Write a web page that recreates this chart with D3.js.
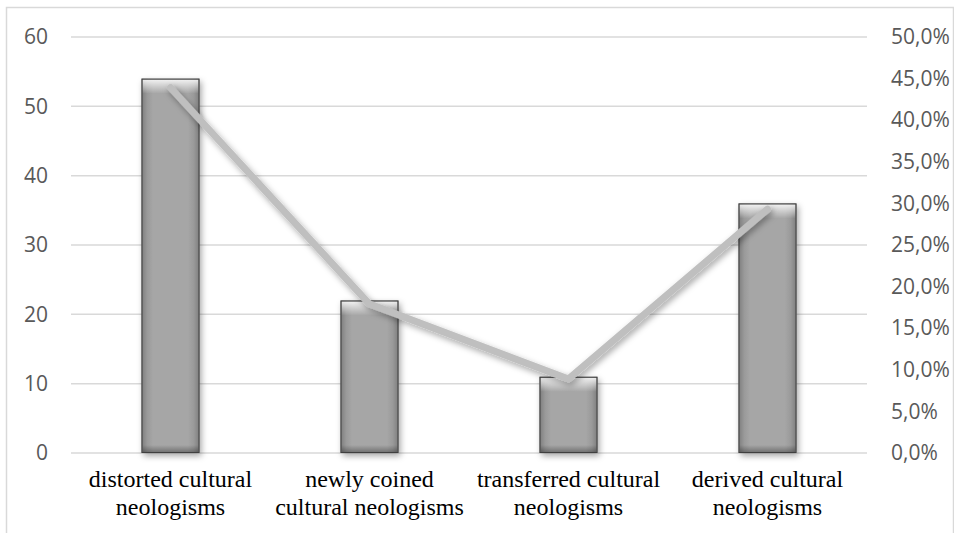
<!DOCTYPE html>
<html>
<head>
<meta charset="utf-8">
<script src="https://cdn.jsdelivr.net/npm/d3@7"></script>
<style>
  html, body { margin: 0; padding: 0; background: #fff; }
  svg { display: block; }
</style>
</head>
<body>
<svg id="chart" width="954" height="533"></svg>
<script>
// Neologism counts per category (bars, left axis) and their share (line, right axis)
const categories = [
  ["distorted cultural", "neologisms"],
  ["newly coined", "cultural neologisms"],
  ["transferred cultural", "neologisms"],
  ["derived cultural", "neologisms"]
];
const counts = [54, 22, 11, 36];
const shares = [43.9, 17.9, 8.9, 29.3];
const countTicks = [0, 10, 20, 30, 40, 50, 60];
const shareTicks = [0, 5, 10, 15, 20, 25, 30, 35, 40, 45, 50];

const svg = d3.select("#chart");
const W = 954, H = 533;
const plot = { left: 71, right: 867, top: 37, bottom: 453 };

// outer frame
svg.append("rect")
  .attr("x", 6.5).attr("y", 7.5)
  .attr("width", W - 7).attr("height", H)
  .attr("fill", "none").attr("stroke", "#d9d9d9").attr("stroke-width", 1.5);

const keys = categories.map((c, i) => i);
const x = d3.scaleBand().domain(keys).range([plot.left, plot.right]).paddingInner(0).paddingOuter(0);
const yL = d3.scaleLinear().domain([0, 60]).range([plot.bottom, plot.top]);
const yR = d3.scaleLinear().domain([0, 50]).range([plot.bottom, plot.top]);

const defs = svg.append("defs");
const side = defs.append("linearGradient").attr("id", "barSide").attr("x1", 0).attr("x2", 1).attr("y1", 0).attr("y2", 0);
[[0, "#7d7d7d"], [0.1, "#9a9a9a"], [0.2, "#a6a6a6"], [0.8, "#a6a6a6"], [0.9, "#9a9a9a"], [1, "#7d7d7d"]]
  .forEach(([o, c]) => side.append("stop").attr("offset", o).attr("stop-color", c));
const topHi = defs.append("linearGradient").attr("id", "barTop").attr("x1", 0).attr("x2", 0).attr("y1", 0).attr("y2", 1);
[[0, "#ffffff", 0.85], [1, "#ffffff", 0]].forEach(([o, c, a]) =>
  topHi.append("stop").attr("offset", o).attr("stop-color", c).attr("stop-opacity", a));
const botSh = defs.append("linearGradient").attr("id", "barBot").attr("x1", 0).attr("x2", 0).attr("y1", 0).attr("y2", 1);
[[0, "#000", 0], [1, "#000", 0.3]].forEach(([o, c, a]) =>
  botSh.append("stop").attr("offset", o).attr("stop-color", c).attr("stop-opacity", a));
const shadow = defs.append("filter").attr("id", "shadow").attr("x", "-30%").attr("y", "-30%").attr("width", "160%").attr("height", "160%");
shadow.append("feDropShadow").attr("dx", 2).attr("dy", 3).attr("stdDeviation", 3)
  .attr("flood-color", "#000").attr("flood-opacity", 0.35);

// gridlines
svg.append("g").selectAll("line").data(countTicks).join("line")
  .attr("x1", plot.left).attr("x2", plot.right)
  .attr("y1", d => yL(d)).attr("y2", d => yL(d))
  .attr("stroke", "#d9d9d9").attr("stroke-width", 1.5);

// left axis labels
const leftAxis = svg.append("g").attr("transform", `translate(${plot.left - 23},0)`)
  .call(d3.axisLeft(yL).tickValues(countTicks).tickSize(0).tickPadding(0).tickFormat(d3.format("d")));
leftAxis.select(".domain").remove();
leftAxis.selectAll("text").attr("font-family", "'Open Sans', sans-serif").attr("font-size", 21)
  .attr("fill", "#595959");

// right axis labels
const rightAxis = svg.append("g").attr("transform", `translate(${plot.right + 24},0)`)
  .call(d3.axisRight(yR).tickValues(shareTicks).tickSize(0).tickPadding(0)
    .tickFormat(d => d.toFixed(1).replace(".", ",") + "%"));
rightAxis.select(".domain").remove();
rightAxis.selectAll("text").attr("font-family", "'Open Sans', sans-serif").attr("font-size", 21)
  .attr("fill", "#595959");

// bars
const barW = 58;
const bars = svg.append("g").selectAll("g").data(counts).join("g")
  .attr("transform", (d, i) => `translate(${x(i) + x.bandwidth() / 2 - barW / 2},${yL(d)})`);
bars.append("rect").attr("width", barW).attr("height", d => yL(0) - yL(d))
  .attr("fill", "url(#barSide)").attr("filter", "url(#shadow)");
bars.append("rect").attr("x", 1).attr("y", 1).attr("width", barW - 2).attr("height", 14)
  .attr("fill", "url(#barTop)");
bars.append("rect").attr("x", 1).attr("y", d => yL(0) - yL(d) - 8).attr("width", barW - 2).attr("height", 7)
  .attr("fill", "url(#barBot)");
bars.append("rect").attr("x", 0.5).attr("y", 0.5).attr("width", barW - 1).attr("height", d => yL(0) - yL(d) - 1)
  .attr("fill", "none").attr("stroke", "#3f3f3f").attr("stroke-width", 1);

// share line
const line = d3.line().x((d, i) => x(i) + x.bandwidth() / 2).y(d => yR(d));
svg.append("path").datum(shares).attr("d", line)
  .attr("fill", "none").attr("stroke", "#bfbfbf").attr("stroke-width", 7)
  .attr("stroke-linecap", "round").attr("stroke-linejoin", "round")
  .attr("filter", "url(#shadow)");

// category labels
const labels = svg.append("g").selectAll("text").data(categories).join("text")
  .attr("x", (d, i) => x(i) + x.bandwidth() / 2)
  .attr("y", 487)
  .attr("text-anchor", "middle")
  .attr("font-family", "'Liberation Serif', 'Times New Roman', serif")
  .attr("font-size", 24).attr("fill", "#000");
labels.selectAll("tspan").data(d => d).join("tspan")
  .attr("x", function () { return this.parentNode.getAttribute("x"); })
  .attr("dy", (d, j) => j === 0 ? 0 : 28)
  .text(d => d);
</script>
</body>
</html>
